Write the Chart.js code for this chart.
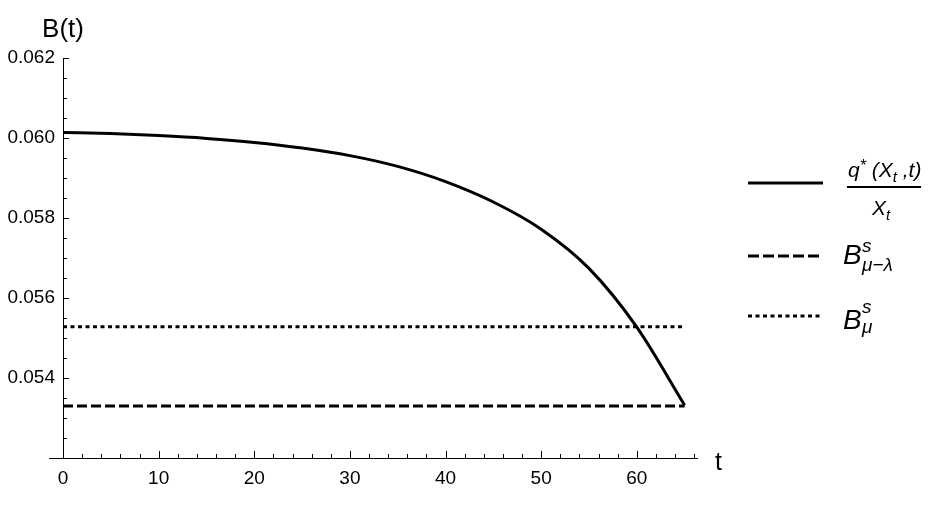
<!DOCTYPE html>
<html>
<head>
<meta charset="utf-8">
<script src="https://cdn.jsdelivr.net/npm/chart.js@4.4.0/dist/chart.umd.min.js"></script>
<style>
body { margin: 0; background: #fff; }
#wrap { position: relative; width: 932px; height: 508px; }
#keys { position: absolute; left: 0; top: 0; pointer-events: none; }
.leg { position: absolute; font-family: "Liberation Sans", Arial, sans-serif; font-style: italic; color: #000; white-space: nowrap; }
.small { font-size: 21px; line-height: 21px; }
.big { font-size: 28px; line-height: 28px; }
.scr { font-size: 19px; line-height: 19px; }
.sub { position: relative; top: 5px; font-size: 15px; }
.sup { position: relative; top: -6px; font-size: 16px; }
#bar { position: absolute; left: 847px; top: 186px; width: 74px; height: 2px; background: #000; }
</style>
</head>
<body>
<div id="wrap">
  <canvas id="chart"></canvas>
  <svg id="keys" width="932" height="508">
    <line x1="748" y1="183" x2="823" y2="183" stroke="#000" stroke-width="3"/>
    <line x1="748" y1="256" x2="823" y2="256" stroke="#000" stroke-width="3" stroke-dasharray="11 4"/>
    <line x1="748" y1="316" x2="823" y2="316" stroke="#000" stroke-width="3" stroke-dasharray="4 3.5"/>
  </svg>
  <div class="leg small" style="left:848px; top:159px;">q<span class="sup">*</span> (X<span class="sub">t</span> ,t)</div>
  <div id="bar"></div>
  <div class="leg small" style="left:872px; top:197px;">X<span class="sub">t</span></div>

  <div class="leg big" style="left:843px; top:241px;">B</div>
  <div class="leg scr" style="left:862px; top:236px;">s</div>
  <div class="leg scr" style="left:862px; top:255px;">μ−λ</div>

  <div class="leg big" style="left:843px; top:306px;">B</div>
  <div class="leg scr" style="left:862px; top:297px;">s</div>
  <div class="leg scr" style="left:862px; top:317px;">μ</div>
</div>
<script>
// time grid and the optimal ratio q*(X_t,t)/X_t
const tValues = [0, 5, 10, 15, 20, 25, 30, 35, 40, 45, 50, 55, 60, 65];
const ratioValues = [0.06014, 0.06011, 0.06006, 0.05999, 0.05989, 0.05975, 0.05956, 0.05929,
    0.05891, 0.05840, 0.05772, 0.05674, 0.05527, 0.05332];

// the two constant levels
const levelSpan = [0, 65];
const bMuLambda = 0.05330;
const bMu = 0.05528;

// axis ticks
const xMajor = [0, 10, 20, 30, 40, 50, 60];
const yMajor = [0.054, 0.056, 0.058, 0.060, 0.062];

Chart.defaults.font.family = '"Liberation Sans", Arial, sans-serif';
Chart.defaults.color = '#000';

// Mathematica-style axes: inward ticks, x axis running a bit left of the y axis
const axesPlugin = {
    id: 'axes',
    beforeDatasetsDraw(chart) {
        const ctx = chart.ctx;
        const xs = chart.scales.x;
        const ys = chart.scales.y;
        const area = chart.chartArea;
        ctx.save();
        ctx.strokeStyle = '#000';
        ctx.lineWidth = 1;
        ctx.beginPath();
        ctx.moveTo(area.left - 14, area.bottom + 0.5);
        ctx.lineTo(area.right, area.bottom + 0.5);
        ctx.moveTo(area.left + 0.5, area.top);
        ctx.lineTo(area.left + 0.5, area.bottom);
        for (let v = 0; v <= 66; v += 2) {
            const px = Math.round(xs.getPixelForValue(v)) + 0.5;
            const len = xMajor.includes(v) ? 7 : 4;
            ctx.moveTo(px, area.bottom);
            ctx.lineTo(px, area.bottom - len);
        }
        for (let k = 1; k <= 20; k++) {
            const v = 0.052 + k * 0.0005;
            const py = Math.round(ys.getPixelForValue(v)) + 0.5;
            const len = k % 4 === 0 ? 6 : 4;
            ctx.moveTo(area.left, py);
            ctx.lineTo(area.left + len, py);
        }
        ctx.stroke();

        ctx.fillStyle = '#000';
        ctx.font = '26px "Liberation Sans", Arial, sans-serif';
        ctx.textAlign = 'center';
        ctx.textBaseline = 'alphabetic';
        ctx.fillText('B(t)', area.left, 37);
        ctx.textAlign = 'left';
        ctx.font = '25px "Liberation Sans", Arial, sans-serif';
        ctx.fillText('t', area.right + 17, area.bottom + 12);
        ctx.restore();
    }
};

const ctx = document.getElementById('chart').getContext('2d');
const chart = new Chart(ctx, {
    type: 'line',
    data: {
        datasets: [
            {
                label: 'q*(Xt,t)/Xt',
                data: tValues.map((t, i) => ({ x: t, y: ratioValues[i] })),
                borderColor: '#000',
                borderWidth: 3,
                pointRadius: 0,
                fill: false,
                cubicInterpolationMode: 'monotone',
                clip: false,
            },
            {
                label: 'B^s_{mu-lambda}',
                data: levelSpan.map(t => ({ x: t, y: bMuLambda })),
                borderColor: '#000',
                borderWidth: 3,
                borderDash: [10, 4],
                pointRadius: 0,
                fill: false,
                clip: false,
            },
            {
                label: 'B^s_mu',
                data: levelSpan.map(t => ({ x: t, y: bMu })),
                borderColor: '#000',
                borderWidth: 3,
                borderDash: [4, 3.5],
                pointRadius: 0,
                fill: false,
                clip: false,
            }
        ]
    },
    options: {
        responsive: true,
        maintainAspectRatio: false,
        animation: false,
        layout: {
            padding: { top: 58, right: 234, bottom: 0, left: 0 }
        },
        scales: {
            x: {
                type: 'linear',
                min: 0,
                max: 66.4,
                grid: { display: false, drawTicks: false },
                border: { display: false },
                ticks: {
                    stepSize: 10,
                    includeBounds: false,
                    autoSkip: false,
                    maxRotation: 0,
                    padding: 9,
                    font: { size: 19 },
                    color: '#000',
                    callback: v => v
                },
                afterFit: scale => { scale.height = 50; }
            },
            y: {
                type: 'linear',
                min: 0.052,
                max: 0.062,
                grid: { display: false, drawTicks: false },
                border: { display: false },
                ticks: {
                    stepSize: 0.002,
                    includeBounds: false,
                    padding: 8,
                    font: { size: 19 },
                    color: '#000',
                    callback: v => (yMajor.some(m => Math.abs(m - v) < 1e-6) ? v.toFixed(3) : '')
                },
                afterFit: scale => { scale.width = 63; }
            }
        },
        plugins: {
            legend: { display: false },
            tooltip: { enabled: false },
            title: { display: false }
        }
    },
    plugins: [axesPlugin]
});
window.chart = chart;
</script>
</body>
</html>
